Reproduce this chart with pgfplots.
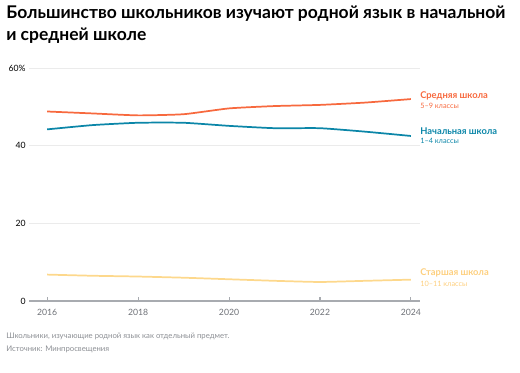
\documentclass[border=0pt]{standalone}
\usepackage{pgfplots}
\pgfplotsset{compat=1.18}
\usepackage{fontspec}
\setmainfont{Lato}
\definecolor{corange}{HTML}{F7693E}
\definecolor{cblue}{HTML}{0B86A8}
\definecolor{cyellow}{HTML}{FDD88C}
\definecolor{cgrid}{HTML}{EBEBEB}
\definecolor{caxis}{HTML}{A8ABB0}
\definecolor{ctick}{HTML}{6E7177}
\definecolor{cnote}{HTML}{8C8F94}
\begin{document}
\begin{tikzpicture}
\begin{scope}[x=0.75pt,y=0.75pt]
\useasboundingbox (0,0) rectangle (520,372);
\node[anchor=north west,inner sep=0pt,align=left,font=\fontsize{13.1pt}{16pt}\selectfont\bfseries] at (6,366)
 {Большинство школьников изучают родной язык в начальной\\и средней школе};
\end{scope}
\begin{axis}[
  at={(21.75pt,53.25pt)}, anchor=south west,
  scale only axis, width=293.25pt, height=174.75pt,
  xmin=2015.6, xmax=2024.2, ymin=0, ymax=60,
  axis x line*=bottom, axis y line*=left,
  x axis line style={caxis, line width=0.8pt, -},
  y axis line style={draw=none},
  xtick={2016,2018,2020,2022,2024},
  xticklabels={2016,2018,2020,2022,2024},
  ytick={0,20,40,60}, yticklabels={0,20,40,60\%},
  ymajorgrids, grid style={cgrid, line width=0.6pt},
  major tick length=3pt,
  xtick style={caxis, line width=0.8pt},
  ytick style={draw=none},
  x tick label style={font=\fontsize{6.5pt}{7pt}\selectfont, text=ctick, yshift=-2.5pt},
  y tick label style={font=\fontsize{6.5pt}{7pt}\selectfont, text=black, xshift=1pt},
  /pgf/number format/assume math mode=true,
  clip=false,
]
\addplot[corange, line width=1.3pt, smooth, tension=0.3] coordinates {
 (2016,48.8) (2017,48.3) (2018,47.8) (2019,48.1) (2020,49.6) (2021,50.2) (2022,50.5) (2023,51.1) (2024,52.0)};
\addplot[cblue, line width=1.3pt, smooth, tension=0.3] coordinates {
 (2016,44.2) (2017,45.3) (2018,45.9) (2019,45.9) (2020,45.1) (2021,44.5) (2022,44.5) (2023,43.6) (2024,42.5)};
\addplot[cyellow, line width=1.3pt, smooth, tension=0.3] coordinates {
 (2016,6.8) (2017,6.5) (2018,6.3) (2019,6.0) (2020,5.6) (2021,5.2) (2022,4.9) (2023,5.2) (2024,5.5)};
\end{axis}
\begin{scope}[x=0.75pt,y=0.75pt,every node/.style={anchor=west,inner sep=0pt}]
\node[font=\fontsize{7pt}{8pt}\selectfont\bfseries,text=corange] at (420,276) {Средняя школа};
\node[font=\fontsize{5.5pt}{6pt}\selectfont,text=corange] at (420,266) {5–9 классы};
\node[font=\fontsize{7pt}{8pt}\selectfont\bfseries,text=cblue] at (420,241) {Начальная школа};
\node[font=\fontsize{5.5pt}{6pt}\selectfont,text=cblue] at (420,231) {1–4 классы};
\node[font=\fontsize{7pt}{8pt}\selectfont\bfseries,text=cyellow!90!orange] at (420,99) {Старшая школа};
\node[font=\fontsize{5.5pt}{6pt}\selectfont,text=cyellow!90!orange] at (420,88) {10–11 классы};
\node[font=\fontsize{5.8pt}{7pt}\selectfont,text=cnote] at (6,36) {Школьники, изучающие родной язык как отдельный предмет.};
\node[font=\fontsize{5.8pt}{7pt}\selectfont,text=cnote] at (6,23) {Источник: Минпросвещения};
\end{scope}
\end{tikzpicture}
\end{document}
